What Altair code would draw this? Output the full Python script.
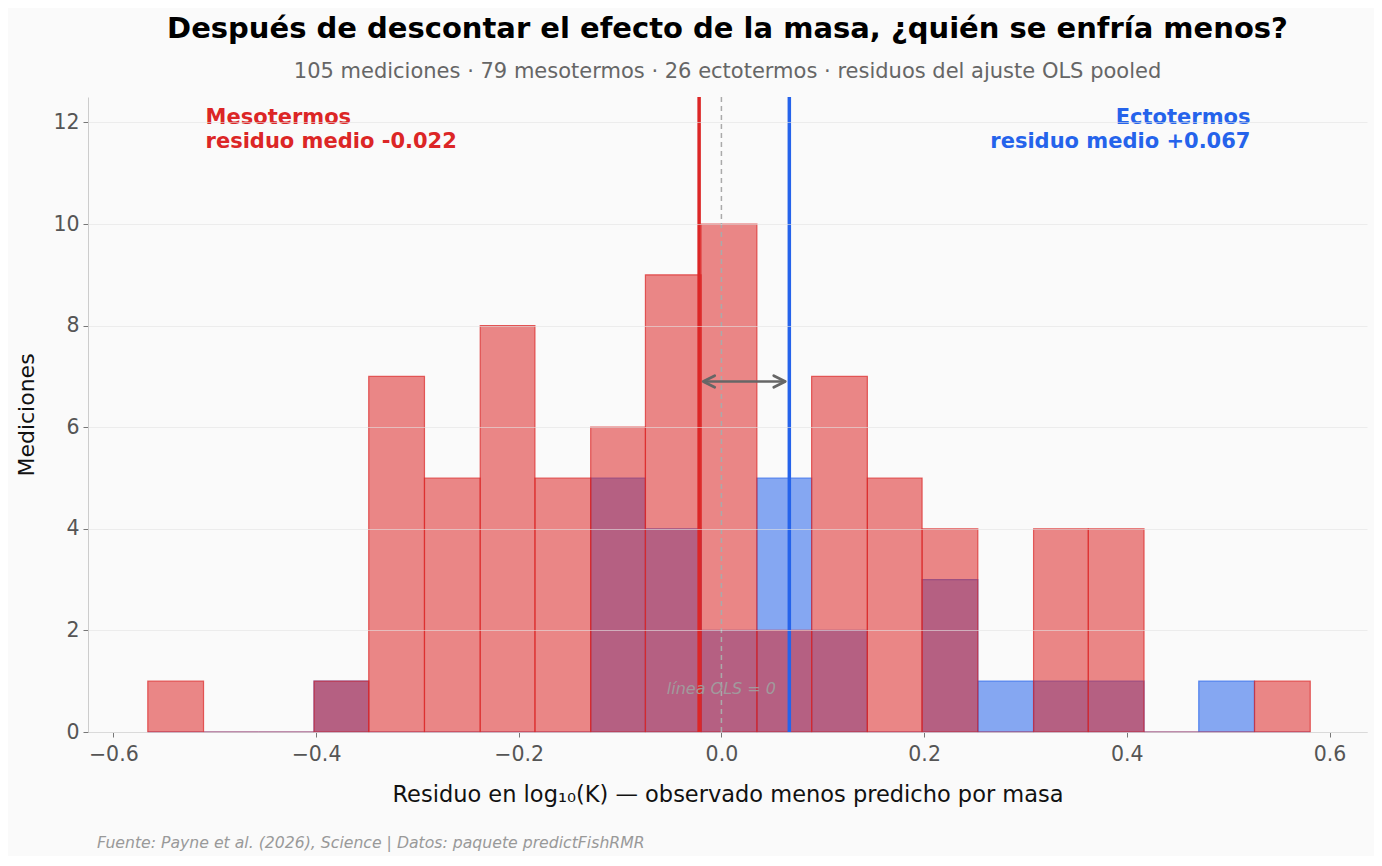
import altair as alt
import pandas as pd

# Bin edges (residual in log10 K)
bin_edges = [-0.566, -0.511, -0.457, -0.402, -0.348, -0.293, -0.238, -0.184, -0.129,
             -0.075, -0.020, 0.035, 0.089, 0.144, 0.198, 0.253, 0.308, 0.362, 0.417,
             0.471, 0.526, 0.581]
# Counts per bin
meso_counts = [1, 0, 0, 1, 7, 5, 8, 5, 6, 9, 10, 2, 7, 5, 4, 0, 4, 4, 0, 0, 1]
ecto_counts = [0, 0, 0, 1, 0, 0, 0, 0, 5, 4, 2, 5, 2, 0, 3, 1, 1, 1, 0, 1, 0]

meso_mean = -0.022
ecto_mean = 0.067
arrow_y = 6.9

title_text = "Después de descontar el efecto de la masa, ¿quién se enfría menos?"
subtitle_text = "105 mediciones · 79 mesotermos · 26 ectotermos · residuos del ajuste OLS pooled"
x_title = "Residuo en log₁₀(K) — observado menos predicho por masa"
y_title = "Mediciones"
footer_text = "Fuente: Payne et al. (2026), Science | Datos: paquete predictFishRMR"
meso_label = ["Mesotermos", "residuo medio -0.022"]
ecto_label = ["Ectotermos", "residuo medio +0.067"]
ols_label = "línea OLS = 0"

x_ticks = [-0.6, -0.4, -0.2, 0.0, 0.2, 0.4, 0.6]
y_ticks = [0, 2, 4, 6, 8, 10, 12]

RED = "#dc2626"
BLUE = "#2563eb"
FONT = "DejaVu Sans"

def bins_df(counts):
    return pd.DataFrame({
        "lo": bin_edges[:-1],
        "hi": bin_edges[1:],
        "n": counts,
    })

df_meso = bins_df(meso_counts)
df_ecto = bins_df(ecto_counts)

xscale = alt.Scale(domain=[-0.625, 0.637], nice=False, zero=False)
yscale = alt.Scale(domain=[0, 12.5], nice=False)

x_axis = alt.Axis(values=x_ticks, format=".1f", title=x_title, grid=False,
                  labelFontSize=20.5, labelColor="#555555", labelFont=FONT,
                  tickColor="#777777", tickSize=5, labelPadding=7,
                  domainColor="#cccccc", titleFontSize=22.5, titleFont=FONT,
                  titleFontWeight="normal", titleColor="#111111", titlePadding=19)
y_axis = alt.Axis(values=y_ticks, title=y_title, grid=True, gridColor="#e2e2e2",
                  gridOpacity=0.6, gridWidth=1,
                  labelFontSize=20.5, labelColor="#555555", labelFont=FONT,
                  tickColor="#777777", tickSize=5, labelPadding=4,
                  domainColor="#cccccc", titleFontSize=22, titleFont=FONT,
                  titleFontWeight="normal", titleColor="#111111", titlePadding=14,
                  zindex=1)

def X(field):
    return alt.X(field, scale=xscale, axis=x_axis)

def Y(field):
    return alt.Y(field, scale=yscale, axis=y_axis)

def bars(df, color):
    return alt.Chart(df).mark_bar(
        color=color, fillOpacity=0.55, stroke=color, strokeOpacity=0.7,
        strokeWidth=1.2, binSpacing=0
    ).encode(
        x=X("lo:Q"),
        x2="hi:Q",
        y=Y("n:Q"),
        y2=alt.datum(0),
    )

blue_bars = bars(df_ecto, BLUE)
red_bars = bars(df_meso, RED)

lines_df = pd.DataFrame({"x": [meso_mean, ecto_mean], "c": [RED, BLUE]})
mean_rules = alt.Chart(lines_df).mark_rule(strokeWidth=3.5).encode(
    x=X("x:Q"),
    color=alt.Color("c:N", scale=None),
)

zero_rule = alt.Chart(pd.DataFrame({"x": [0.0]})).mark_rule(
    color="#aaaaaa", strokeDash=[5, 4], strokeWidth=1.5
).encode(x=X("x:Q"))

arrow_df = pd.DataFrame({"x1": [meso_mean + 0.004], "x2": [ecto_mean - 0.004], "y": [arrow_y]})
arrow_line = alt.Chart(arrow_df).mark_rule(color="#666666", strokeWidth=2.5).encode(
    x=X("x1:Q"), x2="x2:Q", y=Y("y:Q")
)
head_df = pd.DataFrame({"x": [meso_mean + 0.004, ecto_mean - 0.004],
                        "y": [arrow_y, arrow_y], "a": [0, 180]})
arrow_heads = alt.Chart(head_df).mark_point(
    shape="M1,-0.5L0,0L1,0.5", filled=False, color="#666666", strokeWidth=2.8,
    size=530, opacity=1, strokeCap="round", strokeJoin="round"
).encode(
    x=X("x:Q"), y=Y("y:Q"),
    angle=alt.Angle("a:Q", scale=None),
)

meso_text = alt.Chart(pd.DataFrame({"x": [-0.509], "y": [12.3], "t": [meso_label]})).mark_text(
    align="left", baseline="top", font=FONT, fontSize=21, fontWeight="bold",
    color=RED, lineHeight=24
).encode(x=X("x:Q"), y=Y("y:Q"), text="t")

ecto_text = alt.Chart(pd.DataFrame({"x": [0.522], "y": [12.3], "t": [ecto_label]})).mark_text(
    align="right", baseline="top", font=FONT, fontSize=21, fontWeight="bold",
    color=BLUE, lineHeight=24
).encode(x=X("x:Q"), y=Y("y:Q"), text="t")

ols_text = alt.Chart(pd.DataFrame({"x": [0.0], "y": [0.85], "t": [ols_label]})).mark_text(
    align="center", baseline="middle", font=FONT, fontSize=16, fontStyle="italic",
    color="#a0a0a0", opacity=0.9
).encode(x=X("x:Q"), y=Y("y:Q"), text="t")

footer = alt.Chart(pd.DataFrame({"t": [footer_text]})).mark_text(
    align="left", baseline="middle", font=FONT, fontSize=15.7, fontStyle="italic",
    color="#999999"
).encode(x=alt.value(9), y=alt.value(746), text="t")

chart = alt.layer(
    blue_bars, red_bars, zero_rule, mean_rules, arrow_line, arrow_heads,
    meso_text, ecto_text, ols_text, footer
).properties(
    width=1279, height=635,
    title=alt.TitleParams(
        text=title_text, subtitle=subtitle_text, anchor="middle",
        font=FONT, fontSize=29, fontWeight="bold", color="#000000",
        subtitleFont=FONT, subtitleFontSize=21, subtitleColor="#666666",
        offset=13, subtitlePadding=17,
    ),
    autosize=alt.AutoSizeParams(type="none"),
    padding={"left": 80, "top": 89, "right": 7, "bottom": 124},
    background="#fafafa",
).configure_view(stroke=None)

chart.save("out.html", embed_options={"renderer": "svg", "actions": False})
